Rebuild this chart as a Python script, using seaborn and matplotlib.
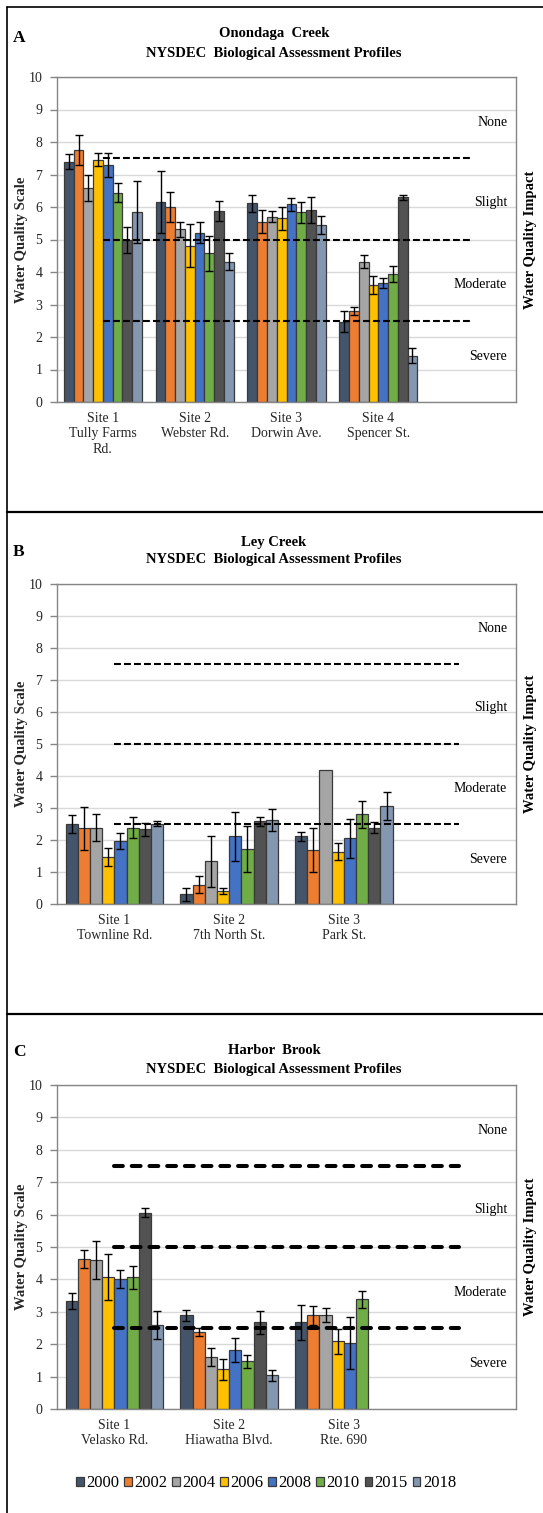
import numpy as np
import pandas as pd
import matplotlib
matplotlib.use("Agg")
import matplotlib.pyplot as plt
import matplotlib.transforms as mtrans
from matplotlib.lines import Line2D
from matplotlib.patches import Patch
from matplotlib.container import BarContainer
import seaborn as sns

# ---------------- data ----------------
years = ["2000", "2002", "2004", "2006", "2008", "2010", "2015", "2018"]
year_colors = ["#44546A", "#ED7D31", "#A5A5A5", "#FFC000",
               "#4472C4", "#70AD47", "#525252", "#8497B0"]

impact_levels = ["None", "Slight", "Moderate", "Severe"]
impact_label_y = [8.6, 6.15, 3.6, 1.4]
thresholds = [7.5, 5.0, 2.5]

# Panel A - Onondaga Creek
a_sites = ["Site 1\nTully Farms\nRd.", "Site 2\nWebster Rd.",
           "Site 3\nDorwin Ave.", "Site 4\nSpencer St."]
a_means = [[7.39, 7.75, 6.57, 7.45, 7.29, 6.44, 5.00, 5.84],
           [6.16, 5.99, 5.31, 4.81, 5.21, 4.57, 5.88, 4.32],
           [6.12, 5.55, 5.70, 5.65, 6.08, 5.84, 5.91, 5.45],
           [2.47, 2.80, 4.32, 3.60, 3.67, 3.93, 6.30, 1.42]]
a_errs = [[0.23, 0.46, 0.40, 0.20, 0.37, 0.30, 0.40, 0.95],
          [0.96, 0.46, 0.23, 0.66, 0.32, 0.55, 0.32, 0.26],
          [0.26, 0.36, 0.17, 0.36, 0.19, 0.32, 0.39, 0.27],
          [0.33, 0.12, 0.19, 0.29, 0.16, 0.24, 0.07, 0.23]]

# Panel B - Ley Creek
b_sites = ["Site 1\nTownline Rd.", "Site 2\n7th North St.", "Site 3\nPark St."]
b_means = [[2.51, 2.36, 2.39, 1.47, 1.97, 2.39, 2.34, 2.51],
           [0.30, 0.60, 1.34, 0.41, 2.11, 1.73, 2.59, 2.62],
           [2.11, 1.69, 4.18, 1.64, 2.05, 2.80, 2.39, 3.07]]
b_errs = [[0.28, 0.68, 0.42, 0.27, 0.24, 0.33, 0.20, 0.08],
          [0.21, 0.27, 0.80, 0.10, 0.78, 0.72, 0.14, 0.35],
          [0.15, 0.70, 0.00, 0.26, 0.62, 0.42, 0.18, 0.44]]

# Panel C - Harbor Brook
c_sites = ["Site 1\nVelasko Rd.", "Site 2\nHiawatha Blvd.", "Site 3\nRte. 690"]
c_means = [[3.33, 4.64, 4.60, 4.07, 4.02, 4.06, 6.06, 2.60],
           [2.89, 2.38, 1.61, 1.22, 1.81, 1.47, 2.67, 1.04],
           [2.67, 2.89, 2.89, 2.09, 2.04, 3.38, np.nan, np.nan]]
c_errs = [[0.25, 0.28, 0.60, 0.70, 0.28, 0.35, 0.13, 0.43],
          [0.18, 0.12, 0.28, 0.32, 0.37, 0.19, 0.36, 0.17],
          [0.53, 0.30, 0.22, 0.38, 0.81, 0.27, np.nan, np.nan]]

# ---------------- style ----------------
sns.set_theme(style="white")
plt.rcParams["font.family"] = ["Liberation Serif", "DejaVu Serif"]
plt.rcParams["text.color"] = "black"

W, H = 543, 1513
fig = plt.figure(figsize=(W / 100, H / 100), dpi=100)


def px_rect(left, top, right, bottom):
    return [left / W, 1 - bottom / H, (right - left) / W, (bottom - top) / H]


def panel(rect, sites, means, errs, n_slots, dash_end, dash_lw, dash_style, dash_cap):
    ax = fig.add_axes(rect)
    cats = [f"c{i}" for i in range(n_slots)]
    rows = []
    for si in range(len(sites)):
        for yi, yr in enumerate(years):
            v = means[si][yi]
            if np.isnan(v):
                continue
            rows.append(dict(cat=cats[si], year=yr, value=v, err=errs[si][yi]))
    df = pd.DataFrame(rows)
    sns.barplot(data=df, x="cat", y="value", hue="year", order=cats,
                hue_order=years, palette=year_colors, width=0.85, gap=0,
                saturation=1, edgecolor="#3a3a3a", linewidth=0.9,
                errorbar=None, legend=False, ax=ax, zorder=2)
    bar_conts = [c for c in ax.containers if isinstance(c, BarContainer)]
    # error bars
    for yi, cont in enumerate(bar_conts):
        for p in cont:
            if p is None:
                continue
            h = p.get_height()
            if not np.isfinite(h):
                continue
            xc = p.get_x() + p.get_width() / 2
            ci = int(round(xc))
            sel = df[(df.cat == cats[ci]) & (df.year == years[yi])]
            if len(sel) == 0:
                continue
            e = float(sel.err.iloc[0])
            if not np.isfinite(e) or e <= 0:
                continue
            ax.errorbar(xc, h, yerr=e, color="black", elinewidth=1,
                        capsize=2.6, capthick=1, fmt="none", zorder=4)
    # threshold dashed lines
    for t in thresholds:
        ax.plot([0, dash_end], [t, t], color="black", lw=dash_lw,
                linestyle=dash_style, dash_capstyle=dash_cap, zorder=5)
    # impact labels
    trans = mtrans.blended_transform_factory(ax.transAxes, ax.transData)
    for lab, yv in zip(impact_levels, impact_label_y):
        ax.text(0.981, yv, lab, transform=trans, ha="right", va="center",
                fontsize=10, zorder=6)
    ax.set_xlim(-0.5, n_slots - 0.5)
    ax.set_ylim(0, 10)
    ax.set_yticks(range(0, 11))
    ax.set_yticklabels([str(i) for i in range(0, 11)], fontsize=10)
    ax.set_xticks(range(n_slots))
    ax.set_xticklabels(list(sites) + [""] * (n_slots - len(sites)),
                       fontsize=10, linespacing=1.25)
    ax.set_xticks(np.arange(-0.5, n_slots, 1.0), minor=True)
    ax.tick_params(axis="x", which="major", length=0, pad=7)
    ax.tick_params(axis="x", which="minor", length=5, width=1,
                   color="#868686", direction="out")
    ax.tick_params(axis="y", length=5, width=1, color="#868686",
                   direction="out", pad=5.5, left=True)
    ax.grid(axis="y", color="#D9D9D9", lw=1)
    ax.grid(axis="x", visible=False)
    ax.set_axisbelow(True)
    for s in ax.spines.values():
        s.set_color("#868686")
        s.set_linewidth(1)
    ax.set_xlabel("")
    ax.set_ylabel("Water Quality Scale", fontsize=10.5, fontweight="bold",
                  labelpad=0.5)
    ax.text(1.031, 0.5, "Water Quality Impact", transform=ax.transAxes,
            rotation=90, ha="center", va="center", fontsize=10.5,
            fontweight="bold")
    return ax


thin = (0, (3.3, 1.5))
thick = (0, (2.2, 2.2))

panel(px_rect(57, 77, 516, 402), a_sites, a_means, a_errs, 5, 4,
      1.5, thin, "butt")
panel(px_rect(57, 584, 516, 904), b_sites, b_means, b_errs, 4, 3,
      1.5, thin, "butt")
panel(px_rect(57, 1085, 516, 1409), c_sites, c_means, c_errs, 4, 3,
      2.9, thick, "round")

# titles and panel letters
titles = [("A", "Onondaga  Creek", 34, 53, 38),
          ("B", "Ley Creek", 542, 560, 552),
          ("C", "Harbor  Brook", 1051, 1070, 1052)]
for letter, name, y1, y2, yl in titles:
    fig.text(274 / W, 1 - y1 / H, name, ha="center", va="center",
             fontsize=10.5, fontweight="bold")
    fig.text(274 / W, 1 - y2 / H, "NYSDEC  Biological Assessment Profiles",
             ha="center", va="center", fontsize=10.5, fontweight="bold")
    fig.text(13 / W, 1 - yl / H, letter, ha="left", va="center",
             fontsize=12.5, fontweight="bold")

# panel frame lines
fig.add_artist(Line2D([7 / W, 7 / W], [0, 1 - 7 / H], transform=fig.transFigure,
                      color="black", lw=1.2))
for yy in (7, 512, 1014):
    fig.add_artist(Line2D([7 / W, 1], [1 - yy / H, 1 - yy / H],
                          transform=fig.transFigure, color="black",
                          lw=1.2 if yy == 7 else 1.6))

# legend
handles = [Patch(facecolor=c, edgecolor="#3a3a3a", linewidth=0.9, label=y)
           for c, y in zip(year_colors, years)]
fig.legend(handles=handles, loc="center", bbox_to_anchor=(266 / W, 1 - 1483 / H),
           ncol=8, frameon=False, fontsize=12, handlelength=0.45,
           handleheight=0.45, handletextpad=0.15, columnspacing=0.3,
           borderpad=0, borderaxespad=0)

fig.savefig("out.png", dpi=100)
